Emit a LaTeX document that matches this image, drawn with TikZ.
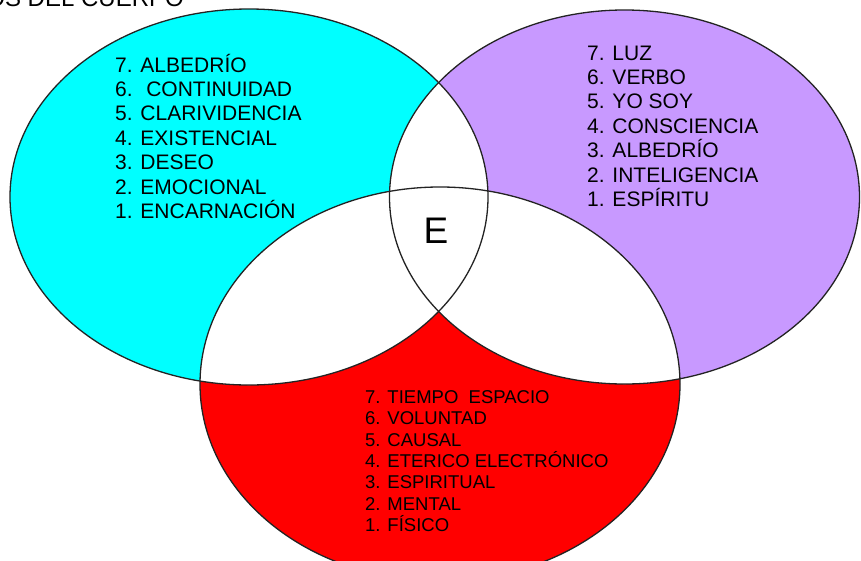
\documentclass[tikz,border=0pt]{standalone}
\usepackage{fontspec}
\setmainfont{Liberation Sans}
\definecolor{cyanfill}{RGB}{0,255,255}
\definecolor{lilacfill}{RGB}{200,153,255}
\definecolor{redfill}{RGB}{255,0,0}
\definecolor{edgecol}{RGB}{35,35,35}
\tikzset{
  outline/.style={draw=edgecol, line width=1.3pt},
  listitem/.style={anchor=base west, inner sep=0pt, font=\fontsize{21}{24}\selectfont},
  smallitem/.style={anchor=base west, inner sep=0pt, font=\fontsize{18.5}{21}\selectfont},
}
\begin{document}
\begin{tikzpicture}[x=1pt,y=-1pt]
\useasboundingbox (0,0) rectangle (861,560);
\clip (0,0) rectangle (861,560);
\fill[white] (0,0) rectangle (861,560);
% coloured ellipses
\fill[cyanfill] (249,197) ellipse [x radius=239pt, y radius=188pt];
\fill[lilacfill] (624.5,197) ellipse [x radius=235pt, y radius=187pt];
\fill[redfill] (440,384) ellipse [x radius=240pt, y radius=197pt];
% overlaps white
\begin{scope}
  \clip (249,197) ellipse [x radius=239pt, y radius=188pt];
  \fill[white] (624.5,197) ellipse [x radius=235pt, y radius=187pt];
  \fill[white] (440,384) ellipse [x radius=240pt, y radius=197pt];
\end{scope}
\begin{scope}
  \clip (624.5,197) ellipse [x radius=235pt, y radius=187pt];
  \fill[white] (440,384) ellipse [x radius=240pt, y radius=197pt];
\end{scope}
% outlines
\draw[outline] (249,197) ellipse [x radius=239pt, y radius=188pt];
\draw[outline] (624.5,197) ellipse [x radius=235pt, y radius=187pt];
\draw[outline] (440,384) ellipse [x radius=240pt, y radius=197pt];
% title (cut off at top)
\node[anchor=base east, inner sep=0pt, font=\fontsize{24}{28}\selectfont] (title) at (184,6.5) {OS DEL CUERPO};
% left list
\node[listitem] (l7) at (115,72) {7. ALBEDRÍO};
\node[listitem] (l6) at (115,96.4) {6.~ CONTINUIDAD};
\node[listitem] (l5) at (115,120.8) {5. CLARIVIDENCIA};
\node[listitem] (l4) at (115,145.2) {4. EXISTENCIAL};
\node[listitem] (l3) at (115,169.6) {3. DESEO};
\node[listitem] (l2) at (115,194) {2. EMOCIONAL};
\node[listitem] (l1) at (115,218.4) {1. ENCARNACIÓN};
% right list
\node[listitem] (r7) at (587,60) {7. LUZ};
\node[listitem] (r6) at (587,84.4) {6. VERBO};
\node[listitem] (r5) at (587,108.8) {5. YO SOY};
\node[listitem] (r4) at (587,133.2) {4. CONSCIENCIA};
\node[listitem] (r3) at (587,157.6) {3. ALBEDRÍO};
\node[listitem] (r2) at (587,182) {2. INTELIGENCIA};
\node[listitem] (r1) at (587,206.4) {1. ESPÍRITU};
% bottom list
\node[smallitem] (b7) at (365,403.3) {7. TIEMPO~ ESPACIO};
\node[smallitem] (b6) at (365,424.7) {6. VOLUNTAD};
\node[smallitem] (b5) at (365,446.1) {5. CAUSAL};
\node[smallitem] (b4) at (365,467.5) {4. ETERICO ELECTRÓNICO};
\node[smallitem] (b3) at (365,488.9) {3. ESPIRITUAL};
\node[smallitem] (b2) at (365,510.3) {2. MENTAL};
\node[smallitem] (b1) at (365,531.7) {1. FÍSICO};
% centre
\node[anchor=base, inner sep=0pt, font=\fontsize{37}{40}\selectfont] (e) at (436,243) {E};
\end{tikzpicture}
\end{document}
